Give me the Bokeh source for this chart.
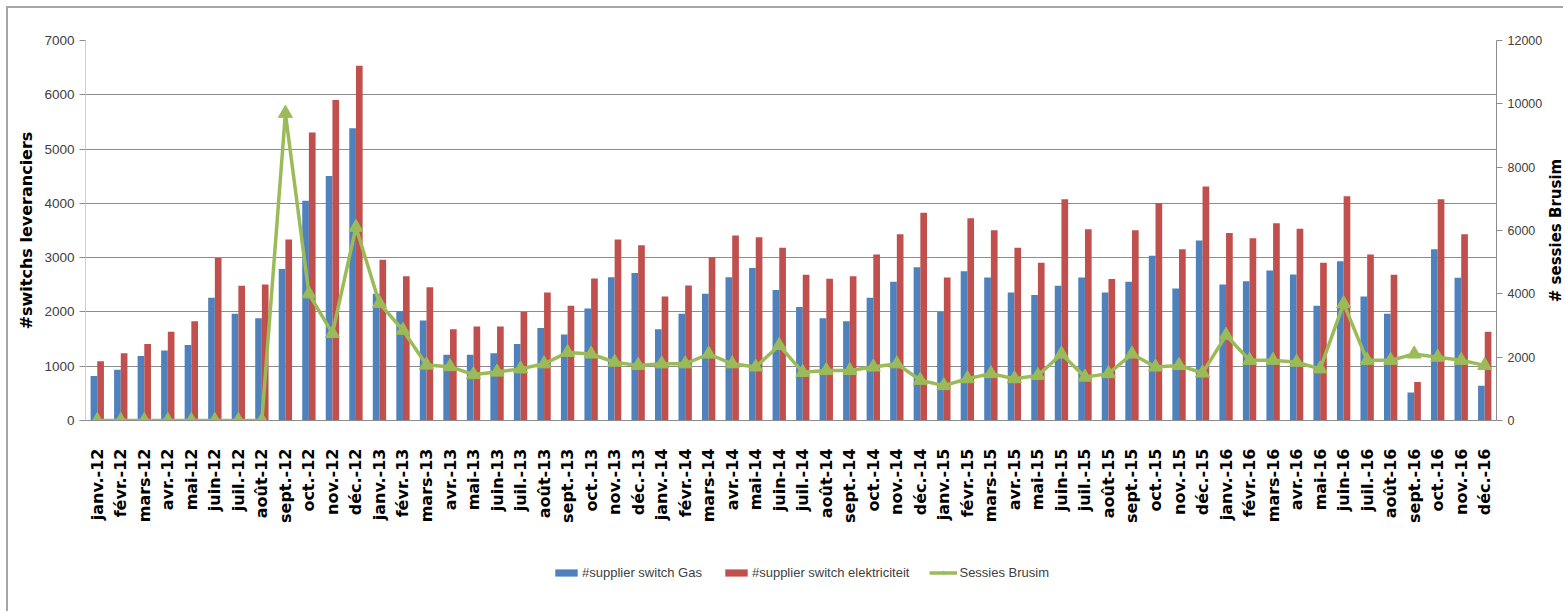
from math import pi
from bokeh.plotting import figure
from bokeh.layouts import column, row
from bokeh.models import (Range1d, LinearAxis, FactorRange, Legend, LegendItem,
                          ColumnDataSource, FixedTicker, Label)
from bokeh.transform import dodge
from bokeh.embed import file_html
from bokeh.resources import INLINE

months = [
    "janv.-12", "févr.-12", "mars-12", "avr.-12", "mai-12", "juin-12", "juil.-12", "août-12", "sept.-12", "oct.-12", "nov.-12", "déc.-12",
    "janv.-13", "févr.-13", "mars-13", "avr.-13", "mai-13", "juin-13", "juil.-13", "août-13", "sept.-13", "oct.-13", "nov.-13", "déc.-13",
    "janv.-14", "févr.-14", "mars-14", "avr.-14", "mai-14", "juin-14", "juil.-14", "août-14", "sept.-14", "oct.-14", "nov.-14", "déc.-14",
    "janv.-15", "févr.-15", "mars-15", "avr.-15", "mai-15", "juin-15", "juil.-15", "août-15", "sept.-15", "oct.-15", "nov.-15", "déc.-15",
    "janv.-16", "févr.-16", "mars-16", "avr.-16", "mai-16", "juin-16", "juil.-16", "août-16", "sept.-16", "oct.-16", "nov.-16", "déc.-16",
]

gas = [
    820, 935, 1190, 1290, 1390, 2260, 1965, 1885, 2790, 4050, 4505, 5385,
    2335, 2015, 1840, 1210, 1210, 1240, 1410, 1705, 1585, 2065, 2640, 2715,
    1680, 1965, 2335, 2640, 2810, 2405, 2090, 1885, 1830, 2260, 2555, 2825,
    2000, 2750, 2635, 2360, 2310, 2480, 2635, 2360, 2555, 3035, 2430, 3315,
    2505, 2565, 2765, 2690, 2115, 2935, 2285, 1965, 515, 3155, 2630, 640,
]

elec = [
    1090, 1240, 1410, 1635, 1830, 2995, 2480, 2505, 3335, 5305, 5905, 6535,
    2960, 2655, 2455, 1680, 1730, 1730, 2000, 2360, 2115, 2615, 3335, 3230,
    2285, 2485, 3005, 3410, 3375, 3180, 2685, 2610, 2655, 3060, 3430, 3825,
    2635, 3725, 3505, 3180, 2905, 4075, 3525, 2605, 3505, 4005, 3155, 4310,
    3455, 3355, 3635, 3530, 2905, 4130, 3060, 2685, 710, 4075, 3430, 1635,
]

sessies = [
    0, 0, 0, 0, 0, 0, 0, 0, 9700, 4000, 2750, 6100,
    3700, 2850, 1750, 1700, 1450, 1530, 1630, 1790, 2150, 2100, 1840, 1740,
    1790, 1790, 2100, 1790, 1690, 2370, 1520, 1580, 1580, 1690, 1790, 1270,
    1100, 1320, 1480, 1320, 1420, 2100, 1370, 1480, 2100, 1690, 1740, 1500,
    2690, 1900, 1900, 1840, 1630, 3690, 1900, 1900, 2100, 2000, 1900, 1740,
]

left_ticks = [0, 1000, 2000, 3000, 4000, 5000, 6000, 7000]
right_ticks = [0, 2000, 4000, 6000, 8000, 10000, 12000]

labels = ["#supplier switch Gas", "#supplier switch elektriciteit", "Sessies Brusim"]
left_title = "#switchs leveranciers"
right_title = "# sessies Brusim"

src = ColumnDataSource(dict(m=months, gas=gas, elec=elec, ses=sessies))

SANS = "Liberation Sans"
BOLD = "DejaVu Sans"
BLUE, RED, GREEN = "#4F81BD", "#C0504D", "#9BBB59"

W = 1539
p = figure(width=W, height=545, x_range=FactorRange(*months),
           y_range=Range1d(0, 7000), output_backend="svg", toolbar_location=None,
           min_border_left=77, min_border_right=W - 1488, min_border_top=32,
           min_border_bottom=133)
p.extra_y_ranges = {"right": Range1d(0, 12000)}
p.outline_line_color = None


def draw(fig, x_range, marker_size):
    rg = fig.vbar(x=dodge("m", -0.142, range=x_range), top="gas", width=0.284,
                  source=src, fill_color=BLUE, line_color=None)
    re = fig.vbar(x=dodge("m", 0.142, range=x_range), top="elec", width=0.284,
                  source=src, fill_color=RED, line_color=None)
    rl = fig.line(x="m", y="ses", source=src, y_range_name="right",
                  line_color=GREEN, line_width=3.5)
    rp = fig.scatter(x="m", y="ses", source=src, y_range_name="right",
                     marker="triangle", size=marker_size, fill_color=GREEN, line_color=GREEN)
    return rg, re, rl, rp


draw(p, p.x_range, 14)

# grid
p.xgrid.grid_line_color = None
p.ygrid.grid_line_color = "#8c8c8c"
p.ygrid.grid_line_width = 1
p.ygrid.ticker = FixedTicker(ticks=left_ticks)

# left axis
ya = p.yaxis[0]
ya.ticker = FixedTicker(ticks=left_ticks)
ya.axis_label = left_title
ya.axis_label_text_font = BOLD
ya.axis_label_text_font_style = "bold"
ya.axis_label_text_font_size = "16px"
ya.axis_label_text_color = "#000000"
ya.axis_label_standoff = 5
ya.major_label_text_font = SANS
ya.major_label_text_font_size = "13.5px"
ya.major_label_text_color = "#404040"
ya.axis_line_color = "#d0d0d0"
ya.major_tick_line_color = "#8c8c8c"
ya.major_tick_in = 0
ya.major_tick_out = 6
ya.minor_tick_line_color = None
ya.major_label_standoff = 5

# right axis (its title is drawn in the narrow strip to the right)
ra = LinearAxis(y_range_name="right", ticker=FixedTicker(ticks=right_ticks))
ra.major_label_text_font = SANS
ra.major_label_text_font_size = "12.5px"
ra.major_label_text_color = "#404040"
ra.axis_line_color = "#8c8c8c"
ra.major_tick_line_color = "#8c8c8c"
ra.major_tick_in = 0
ra.major_tick_out = 6
ra.minor_tick_line_color = None
ra.major_label_standoff = 5
p.add_layout(ra, "right")

# x axis
xa = p.xaxis[0]
xa.major_label_orientation = pi / 2
xa.major_label_text_font = BOLD
xa.major_label_text_font_style = "bold"
xa.major_label_text_font_size = "16px"
xa.major_label_text_color = "#000000"
xa.axis_line_color = "#8c8c8c"
xa.major_tick_line_color = None
xa.major_label_standoff = 22

# right title strip
t = figure(width=16, height=545, x_range=Range1d(0, 1), y_range=Range1d(0, 1),
           output_backend="svg", toolbar_location=None,
           min_border_left=0, min_border_right=0, min_border_top=32,
           min_border_bottom=133, x_axis_location=None, y_axis_location=None)
t.outline_line_color = None
t.grid.visible = False
t.add_layout(Label(x=0.5, y=0.5, text=right_title, angle=pi / 2,
                   text_align="center", text_baseline="middle",
                   text_font=BOLD, text_font_style="bold",
                   text_font_size="15px", text_color="#000000"))

# legend strip: same data, renderers hidden, only its legend is visible
q = figure(width=W, height=58, x_range=FactorRange(*months),
           y_range=Range1d(0, 7000), output_backend="svg", toolbar_location=None,
           min_border=0, x_axis_location=None, y_axis_location=None)
q.extra_y_ranges = {"right": Range1d(0, 12000)}
q.outline_line_color = None
q.grid.visible = False
lg = draw(q, q.x_range, 12)
for r in lg:
    r.visible = False

legend = Legend(items=[
    LegendItem(label=labels[0], renderers=[lg[0]]),
    LegendItem(label=labels[1], renderers=[lg[1]]),
    LegendItem(label=labels[2], renderers=[lg[2], lg[3]]),
], orientation="horizontal", location=(467, 31),
    glyph_width=28, glyph_height=9, label_standoff=2, spacing=20,
    padding=0, margin=0, border_line_color=None, background_fill_alpha=0,
    inactive_fill_alpha=0,
    label_text_font=SANS, label_text_font_size="13px", label_text_color="#404040")
q.add_layout(legend, "center")

layout = row(column(p, q, spacing=0), t, spacing=0)
layout.styles = {"margin-left": "6px", "margin-top": "6px",
                 "border-left": "2px solid #a6a6a6", "border-top": "2px solid #a6a6a6"}

open("out.html", "w").write(file_html(layout, INLINE))
